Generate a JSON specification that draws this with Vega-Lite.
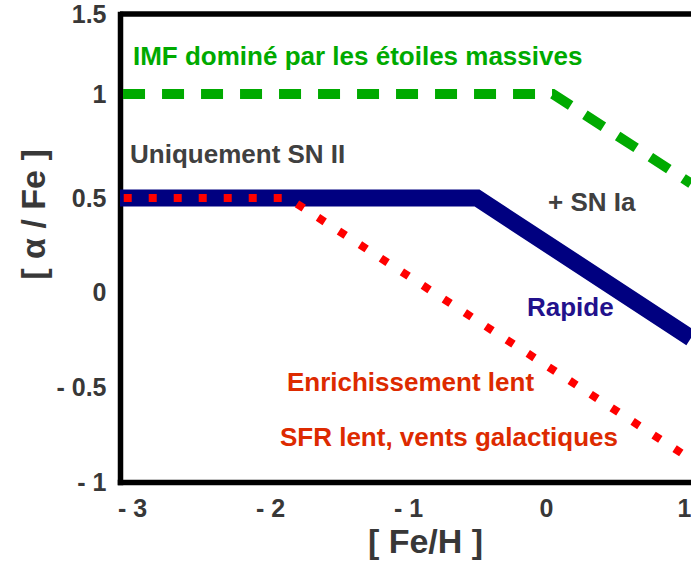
{
  "$schema": "https://vega.github.io/schema/vega-lite/v6.json",
  "autosize": "none",
  "padding": {"left": 120, "top": 14, "right": 0, "bottom": 87},
  "width": 571,
  "height": 468,
  "background": "white",
  "config": {
    "view": {"stroke": null},
    "font": "Liberation Sans"
  },
  "datasets": {
    "lines": [
      {"series": "IMF", "feh": -3.065, "alpha": 1.0},
      {"series": "IMF", "feh": 0.05, "alpha": 1.0},
      {"series": "IMF", "feh": 1.051, "alpha": 0.57},
      {"series": "Rapide", "feh": -3.087, "alpha": 0.5},
      {"series": "Rapide", "feh": -0.5, "alpha": 0.5},
      {"series": "Rapide", "feh": 1.051, "alpha": -0.24},
      {"series": "Lent", "feh": -3.06, "alpha": 0.5},
      {"series": "Lent", "feh": -1.87, "alpha": 0.5},
      {"series": "Lent", "feh": 1.051, "alpha": -0.88}
    ],
    "labels": [
      {"text": "IMF dominé par les étoiles massives", "group": "imf", "feh": -2.993, "alpha": 1.23},
      {"text": "Uniquement SN II", "group": "sn", "feh": -3.014, "alpha": 0.707},
      {"text": "+ SN Ia", "group": "sn", "feh": 0.015, "alpha": 0.474},
      {"text": "Rapide", "group": "rapide", "feh": -0.138, "alpha": -0.081},
      {"text": "Enrichissement lent", "group": "lent", "feh": -1.877, "alpha": -0.479},
      {"text": "SFR lent, vents galactiques", "group": "lent", "feh": -1.928, "alpha": -0.768}
    ],
    "border": [{"alpha": 1.5}]
  },
  "layer": [
    {
      "data": {"name": "lines"},
      "transform": [{"filter": "datum.series === 'IMF'"}],
      "mark": {"type": "line", "color": "#00aa00", "strokeWidth": 10, "strokeDash": [22, 17], "strokeCap": "butt", "clip": true},
      "encoding": {
        "x": {
          "field": "feh", "type": "quantitative",
          "scale": {"domain": [-3.087, 1.051], "nice": false, "zero": false},
          "axis": {
            "values": [-3, -2, -1, 0, 1],
            "labelExpr": "datum.value < 0 ? '- ' + (-datum.value) : '' + datum.value",
            "grid": false, "ticks": false,
            "domainColor": "black", "domainWidth": 5.5, "domainCap": "square",
            "labelFont": "Liberation Sans", "labelFontWeight": "bold", "labelFontSize": 25, "labelColor": "#383838",
            "labelPadding": 14, "labelOverlap": false,
            "title": "[ Fe/H ]", "titleFont": "Liberation Sans", "titleFontWeight": "bold", "titleFontSize": 34, "titleColor": "#383838",
            "titlePadding": 4, "titleX": 305
          }
        },
        "y": {
          "field": "alpha", "type": "quantitative",
          "scale": {"domain": [-1, 0.5, 1, 1.5], "range": [468, 184, 80, 0], "nice": false, "zero": false},
          "axis": {
            "values": [-1, -0.5, 0, 0.5, 1, 1.5],
            "labelExpr": "datum.value < 0 ? '- ' + (-datum.value) : '' + datum.value",
            "grid": false, "ticks": false,
            "domainColor": "black", "domainWidth": 5.5, "domainCap": "square",
            "labelFont": "Liberation Sans", "labelFontWeight": "bold", "labelFontSize": 25, "labelColor": "#383838",
            "labelPadding": 14, "labelOverlap": false,
            "title": "[ α / Fe ]", "titleFont": "Liberation Sans", "titleFontWeight": "bold", "titleFontSize": 34, "titleColor": "#383838",
            "titlePadding": 4, "titleY": 200
          }
        }
      }
    },
    {
      "data": {"name": "lines"},
      "transform": [{"filter": "datum.series === 'Rapide'"}],
      "mark": {"type": "line", "color": "#000080", "strokeWidth": 17, "strokeCap": "butt", "clip": true},
      "encoding": {
        "x": {"field": "feh", "type": "quantitative"},
        "y": {"field": "alpha", "type": "quantitative"}
      }
    },
    {
      "data": {"name": "lines"},
      "transform": [{"filter": "datum.series === 'Lent'"}],
      "mark": {"type": "line", "color": "#ff0000", "strokeWidth": 8, "strokeDash": [8, 17], "strokeCap": "butt", "clip": true},
      "encoding": {
        "x": {"field": "feh", "type": "quantitative"},
        "y": {"field": "alpha", "type": "quantitative"}
      }
    },
    {
      "data": {"name": "border"},
      "mark": {"type": "rule", "color": "black", "strokeWidth": 5.5},
      "encoding": {
        "y": {"field": "alpha", "type": "quantitative"}
      }
    },
    {
      "data": {"name": "labels"},
      "mark": {"type": "text", "align": "left", "baseline": "middle", "font": "Liberation Sans", "fontWeight": "bold", "fontSize": 26},
      "encoding": {
        "x": {"field": "feh", "type": "quantitative"},
        "y": {"field": "alpha", "type": "quantitative"},
        "text": {"field": "text"},
        "color": {
          "field": "group", "type": "nominal",
          "scale": {"domain": ["imf", "sn", "rapide", "lent"], "range": ["#00aa00", "#404040", "#22118c", "#dd2a00"]},
          "legend": null
        }
      }
    }
  ]
}
